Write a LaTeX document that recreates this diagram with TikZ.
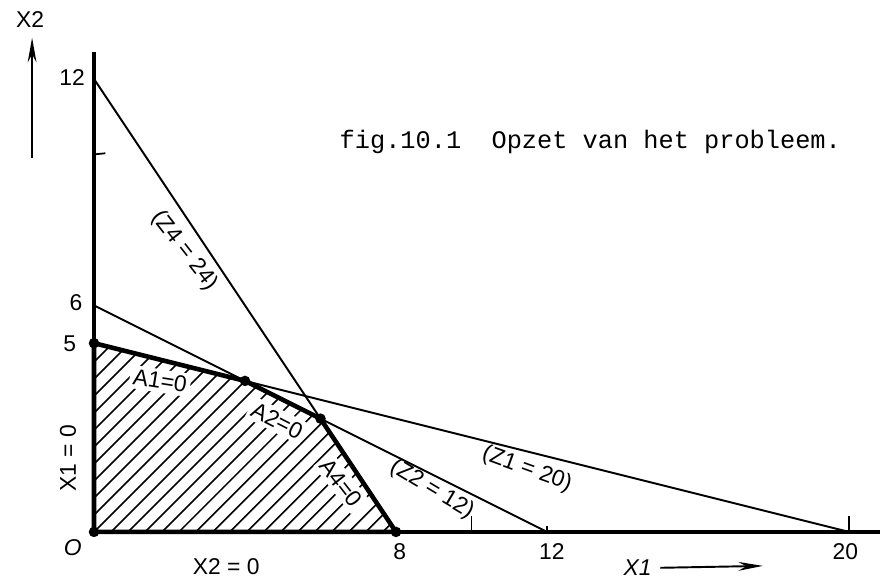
\documentclass[tikz,border=0pt]{standalone}
\usepackage{fontspec}
\setmainfont{Liberation Sans}
\newfontfamily\typewriter{Liberation Mono}
\usetikzlibrary{calc, arrows.meta}

\begin{document}
\begin{tikzpicture}[>={Stealth[length=14pt, width=5pt]}, x=0.755cm, y=0.755cm,
    thinline/.style={line width=1.1pt},
    bound/.style={line width=2.6pt, line cap=round, line join=round},
    hatch/.style={line width=0.9pt},
    lbl/.style={font=\fontsize{13}{15}\selectfont, inner sep=1pt},
    inlbl/.style={lbl, fill=white, inner sep=2pt},
    corner/.style={circle, fill, inner sep=0pt, minimum size=6pt}]
  \useasboundingbox (-2.49,-1.35) rectangle (20.82,14.09);
  % points on the axes and corners of the region
  \coordinate (O) at (0,0);
  \coordinate (Y5) at (0,5);
  \coordinate (Y6) at (0,6);
  \coordinate (Y12) at (0,12);
  \coordinate (X8) at (8,0);
  \coordinate (X12) at (12,0);
  \coordinate (X20) at (20,0);
  \coordinate (V1) at (4,4);
  \coordinate (V2) at (6,3);
  % hatching of the feasible region
  \begin{scope}
    \clip (O) -- (Y5) -- (V1) -- (V2) -- (X8) -- cycle;
    \foreach \k in {-14,...,18} \draw[hatch] (\k*0.45,0) -- ++(7,7);
    \node[inlbl, rotate=-9] (la1) at (1.75,4.0) {A1=0};
    \node[inlbl, rotate=-27] (la2) at (4.85,2.95) {A2=0};
    \node[inlbl, rotate=-52] (la4) at (6.55,1.3) {A4=0};
  \end{scope}
  % axes
  \draw[line width=2pt] (O) -- (20.82,0);
  \draw[line width=2pt] (O) -- (0,12.7);
  \draw[line width=1pt] (0,10) -- (0.3,10.03);
  \draw[line width=1pt] (10,0) -- (10,0.42);
  \draw[line width=1pt] (12,0) -- (12,0.15);
  \draw[line width=1pt] (20,0) -- (20,0.42);
  % lines Z1, Z2, Z4
  \draw[thinline] (Y5) -- (X20);
  \draw[thinline] (Y6) -- (X12);
  \draw[thinline] (Y12) -- (V2);
  \draw[bound] (X8) -- (O) -- (Y5) -- (V1) -- (V2) -- cycle;
  \foreach \p in {O, Y5, V1, V2, X8} \node[corner] (c\p) at (\p) {};
  % axis arrows
  \coordinate (ya) at (-1.64,9.91);
  \coordinate (yb) at (-1.64,13.09);
  \draw[->, line width=1.1pt] (ya) -- (yb);
  \node[lbl] (lx2) at (-1.69,13.56) {X2};
  \coordinate (xa) at (15.0,-0.95);
  \coordinate (xb) at (17.72,-0.9);
  \draw[->, line width=1.1pt] (xa) -- (xb);
  \node[lbl] (lx1) at (14.4,-0.95) {\itshape X1};
  % axis labels
  \node[lbl] (l12y) at (-0.58,12.03) {12};
  \node[lbl] (l6) at (-0.48,6.07) {6};
  \node[lbl] (l5) at (-0.64,4.98) {5};
  \node[lbl] (lO) at (-0.56,-0.42) {\itshape O};
  \node[lbl] (l8) at (8.1,-0.53) {8};
  \node[lbl] (l12x) at (12.13,-0.53) {12};
  \node[lbl] (l20) at (19.9,-0.53) {20};
  \node[lbl, rotate=90] (lx10) at (-0.69,1.96) {X1 = 0};
  \node[lbl] (lx20) at (3.5,-0.93) {X2 = 0};
  % labels along the lines
  \node[lbl, rotate=-52] (lz4) at (2.4,7.45) {(Z4 = 24)};
  \node[lbl, rotate=-31] (lz2) at (8.95,1.12) {(Z2 = 12)};
  \node[lbl, rotate=-20] (lz1) at (11.47,1.66) {(Z1 = 20)};
  % caption
  \node[anchor=west, font=\typewriter\fontsize{14.4}{16}\selectfont, inner sep=0pt]
    (cap) at (6.5,10.33) {fig.10.1\ \ Opzet van het probleem.};
\end{tikzpicture}
\end{document}
